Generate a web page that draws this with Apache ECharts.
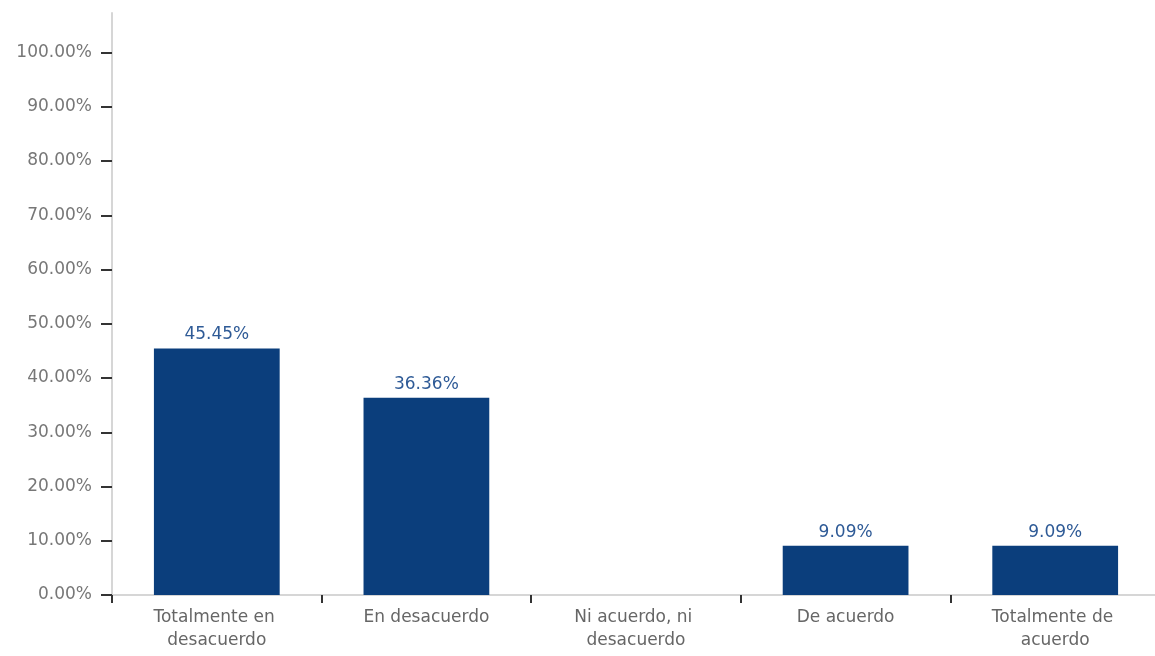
<!DOCTYPE html>
<html>
<head>
<meta charset="utf-8">
<script src="https://cdn.jsdelivr.net/npm/echarts@6/dist/echarts.min.js"></script>
<style>
  html, body { margin: 0; padding: 0; background: #fff; }
  #chart { width: 1155px; height: 656px; }
</style>
</head>
<body>
<div id="chart"></div>
<script>
// data
const categories = ['Totalmente en desacuerdo', 'En desacuerdo', 'Ni acuerdo, ni desacuerdo', 'De acuerdo', 'Totalmente de acuerdo'];
const values = [45.45, 36.36, 0, 9.09, 9.09];
const yTicks = [0, 10, 20, 30, 40, 50, 60, 70, 80, 90, 100];

const myChart = echarts.init(document.getElementById('chart'));
const option = {
  animation: false,
  grid: { left: 112, width: 1048, top: 13, bottom: 61, outerBoundsMode: 'none' },
  xAxis: {
    type: 'category',
    data: categories,
    axisLine: { lineStyle: { color: '#d6d6d6', width: 2 } },
    axisTick: { show: true, length: 8, lineStyle: { color: '#333', width: 2 } },
    axisLabel: {
      color: '#666',
      fontFamily: 'DejaVu Sans',
      fontSize: 17,
      lineHeight: 23,
      margin: 11,
      width: 160,
      overflow: 'break',
      interval: 0
    }
  },
  yAxis: {
    type: 'value',
    min: 0,
    max: 107.3,
    axisLine: { show: true, lineStyle: { color: '#d6d6d6', width: 2 } },
    axisTick: { show: true, length: 11, customValues: yTicks, lineStyle: { color: '#333', width: 2 } },
    splitLine: { show: false },
    axisLabel: {
      customValues: yTicks,
      color: '#777',
      fontFamily: 'DejaVu Sans',
      fontSize: 17,
      margin: 20,
      formatter: v => v.toFixed(2) + '%'
    }
  },
  series: [{
    type: 'bar',
    data: values,
    barCategoryGap: '40%',
    itemStyle: { color: '#0b3e7c' },
    label: {
      show: true,
      position: 'top',
      distance: 5,
      color: '#2e5a96',
      fontFamily: 'DejaVu Sans',
      fontSize: 17,
      formatter: p => p.value > 0 ? p.value.toFixed(2) + '%' : ''
    }
  }]
};
myChart.setOption(option);
</script>
</body>
</html>
